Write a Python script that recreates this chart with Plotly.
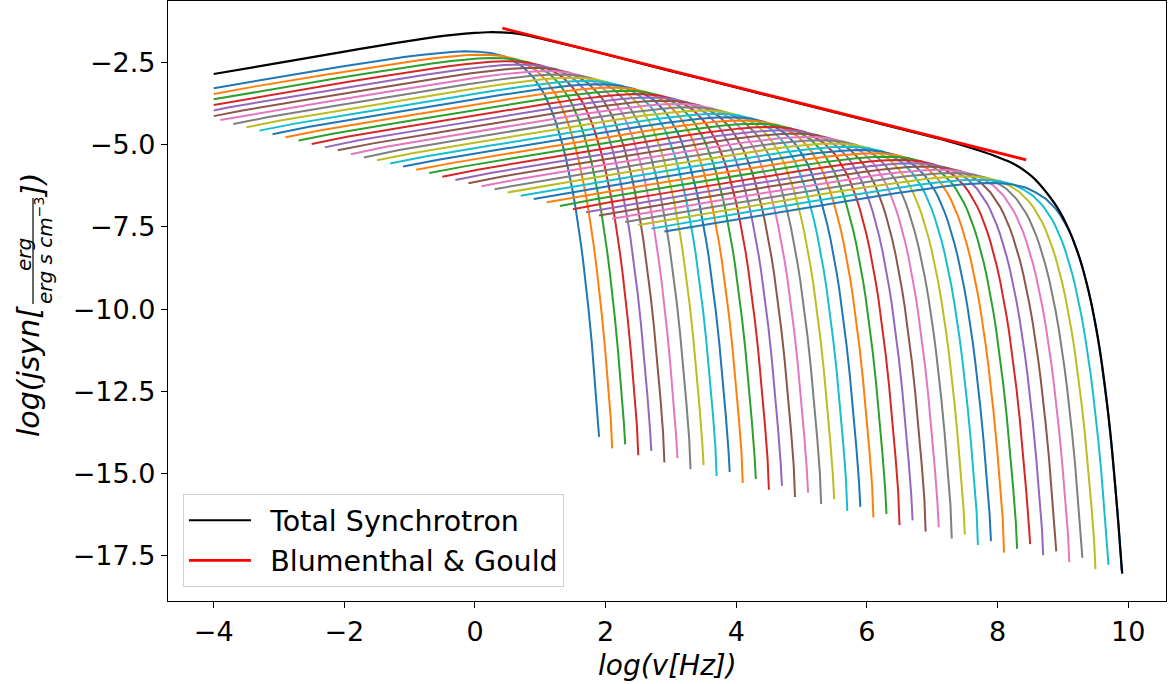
import plotly.graph_objects as go

# ---- data ----
# 41 single-electron synchrotron curves (tab10 colour cycle)
x_start = [-4.0, -4.0, -4.0, -4.0, -4.0, -4.0,
           -3.9, -3.7, -3.5, -3.3, -3.1, -2.9, -2.7, -2.5, -2.3, -2.1, -1.9, -1.7,
           -1.5, -1.3, -1.1, -0.9, -0.7, -0.5, -0.3, -0.1, 0.1, 0.3, 0.5, 0.7,
           0.9, 1.1, 1.3, 1.5, 1.7, 1.9, 2.1, 2.3, 2.5, 2.7, 2.9]
y_start = [-3.28, -3.46, -3.62, -3.79, -3.96, -4.13, -4.25, -4.37, -4.47, -4.57,
           -4.68, -4.77, -4.87, -4.98, -5.08, -5.17, -5.29, -5.39, -5.47, -5.57,
           -5.66, -5.76, -5.86, -5.97, -6.07, -6.17, -6.26, -6.35, -6.45, -6.55,
           -6.65, -6.75, -6.86, -6.96, -7.05, -7.15, -7.25, -7.35, -7.44, -7.55, -7.64]
peak_y = [-2.16, -2.26, -2.36, -2.46, -2.56, -2.66, -2.76, -2.86, -2.96, -3.06,
          -3.16, -3.26, -3.36, -3.46, -3.56, -3.66, -3.76, -3.86, -3.96, -4.06,
          -4.16, -4.26, -4.36, -4.46, -4.56, -4.66, -4.76, -4.86, -4.96, -5.06,
          -5.16, -5.26, -5.36, -5.46, -5.56, -5.66, -5.76, -5.86, -5.96, -6.06, -6.16]
x_end = [1.9, 2.1, 2.3, 2.5, 2.7, 2.9, 3.1, 3.3, 3.5, 3.7, 3.9, 4.1, 4.3, 4.5,
         4.7, 4.9, 5.1, 5.3, 5.5, 5.7, 5.9, 6.1, 6.3, 6.5, 6.7, 6.9, 7.1, 7.3,
         7.5, 7.7, 7.9, 8.1, 8.3, 8.5, 8.7, 8.9, 9.1, 9.3, 9.5, 9.7, 9.9]
y_end = [-13.88, -14.23, -14.11, -14.44, -14.31, -14.66, -14.53, -14.86, -14.74, -15.07,
         -14.95, -15.28, -15.16, -15.49, -15.37, -15.71, -15.58, -15.92, -15.78, -16.13,
         -16.01, -16.33, -16.22, -16.56, -16.42, -16.76, -16.63, -16.97, -16.85, -17.17,
         -17.05, -17.40, -17.28, -17.14, -17.48, -17.36, -17.69, -17.56, -17.90, -17.77, -17.95]

# common curve profile: offset from its right end (x) and from its peak (y)
profile_dx = [-7.0, -6.46, -5.46, -4.46, -3.96, -3.46, -2.96, -2.66, -2.46, -2.26,
              -2.06, -1.86, -1.66, -1.46, -1.31, -1.16, -1.01, -0.94, -0.86, -0.81,
              -0.76, -0.71, -0.66, -0.61, -0.56, -0.51, -0.46, -0.41, -0.36, -0.32,
              -0.28, -0.24, -0.21, -0.16, -0.11, -0.06, -0.02, 0.0]
profile_dy = [-1.474, -1.298, -0.965, -0.635, -0.472, -0.315, -0.168, -0.093, -0.050, -0.019,
              -0.001, -0.009, -0.052, -0.147, -0.293, -0.484, -0.783, -0.973, -1.228, -1.420,
              -1.633, -1.884, -2.166, -2.478, -2.831, -3.230, -3.680, -4.187, -4.759, -5.266,
              -5.829, -6.445, -6.946, -7.865, -8.899, -10.062, -11.095, -11.65]

# total synchrotron (black)
total_x = [-4.0, -3.0, -2.0, -1.5, -1.0, -0.6, -0.3, 0.0, 0.2, 0.4, 0.55, 0.7, 0.85,
           1.0, 1.5, 2.0, 3.0, 4.0, 5.0, 6.0, 7.0, 7.3, 7.57, 7.8, 8.0, 8.15, 8.3,
           8.45, 8.58, 8.7, 8.8, 8.9, 9.0, 9.1, 9.2, 9.3, 9.4, 9.5, 9.6, 9.7, 9.75,
           9.8, 9.85, 9.88, 9.91]
total_y = [-2.85, -2.51, -2.17, -2.00, -1.84, -1.72, -1.65, -1.60, -1.58, -1.585,
           -1.60, -1.64, -1.70, -1.77, -2.00, -2.25, -2.76, -3.26, -3.76, -4.26,
           -4.76, -4.92, -5.08, -5.23, -5.37, -5.49, -5.64, -5.84, -6.06, -6.33,
           -6.58, -6.86, -7.20, -7.62, -8.12, -8.73, -9.50, -10.45, -11.68, -13.25,
           -14.20, -15.30, -16.50, -17.30, -18.04]

# Blumenthal & Gould power law (red)
bg_x = [0.42, 8.44]
bg_y = [-1.457, -5.46]

x_ticks = [-4, -2, 0, 2, 4, 6, 8, 10]
x_tick_text = ["\u22124", "\u22122", "0", "2", "4", "6", "8", "10"]
y_ticks = [-2.5, -5.0, -7.5, -10.0, -12.5, -15.0, -17.5]
y_tick_text = ["\u22122.5", "\u22125.0", "\u22127.5", "\u221210.0", "\u221212.5", "\u221215.0", "\u221217.5"]

colors = ["#1f77b4", "#ff7f0e", "#2ca02c", "#d62728", "#9467bd",
          "#8c564b", "#e377c2", "#7f7f7f", "#bcbd22", "#17becf"]

FONT = "DejaVu Sans"

fig = go.Figure()
for k in range(len(x_end)):
    xs = [x_start[k]]
    ys = [y_start[k]]
    for dx, dy in zip(profile_dx[1:-1], profile_dy[1:-1]):
        xv = x_end[k] + dx
        if xv > x_start[k] + 0.05:
            xs.append(xv)
            ys.append(peak_y[k] + dy)
    xs.append(x_end[k])
    ys.append(y_end[k])
    fig.add_trace(go.Scatter(x=xs, y=ys, mode="lines",
                             line=dict(color=colors[k % 10], width=2),
                             showlegend=False, hoverinfo="skip"))

fig.add_trace(go.Scatter(x=total_x, y=total_y, mode="lines", name="\u2002Total Synchrotron",
                         line=dict(color="black", width=2.2, shape="spline", smoothing=0.6)))
fig.add_trace(go.Scatter(x=bg_x, y=bg_y, mode="lines", name="\u2002Blumenthal & Gould",
                         line=dict(color="#ff0000", width=2.8)))

axis_common = dict(showgrid=False, zeroline=False, showline=True, mirror=True,
                   linecolor="black", linewidth=1.2, ticks="outside", ticklen=6,
                   tickwidth=1.2, tickcolor="black",
                   tickfont=dict(family=FONT, size=27, color="black"))

fig.update_layout(
    width=1168, height=684,
    margin=dict(l=168, r=2, t=1, b=83),
    paper_bgcolor="white", plot_bgcolor="white",
    font=dict(family=FONT, size=27, color="black"),
    xaxis=dict(range=[-4.70, 10.58], tickmode="array", tickvals=x_ticks,
               ticktext=x_tick_text, **axis_common),
    yaxis=dict(range=[-18.87, -0.63], tickmode="array", tickvals=y_ticks,
               ticktext=y_tick_text, **axis_common),
    legend=dict(x=0.015, y=0.023, xanchor="left", yanchor="bottom",
                bgcolor="rgba(255,255,255,0.8)", bordercolor="#d0d0d0", borderwidth=1,
                itemwidth=62,
                font=dict(family=FONT, size=28.5, color="black")),
    hovermode=False,
)

# axis labels
fig.add_annotation(text="<i>log(v[Hz])</i>", xref="paper", yref="paper",
                   x=0.5, y=-0.107, xanchor="center", yanchor="middle",
                   showarrow=False, font=dict(family=FONT, size=28, color="black"))
fig.add_annotation(text="<i>log(jsyn[</i>", xref="paper", yref="paper",
                   x=0, xshift=-140, y=(601 - 372) / 600, xanchor="center", yanchor="middle",
                   textangle=-90, showarrow=False, font=dict(family=FONT, size=30, color="black"))
fig.add_annotation(text="<i>erg</i>", xref="paper", yref="paper",
                   x=0, xshift=-144, y=(601 - 255) / 600, xanchor="center", yanchor="middle",
                   textangle=-90, showarrow=False, font=dict(family=FONT, size=20, color="black"))
fig.add_annotation(text="<i>erg s cm</i><sup>\u22123</sup>", xref="paper", yref="paper",
                   x=0, xshift=-124, y=(601 - 251) / 600, xanchor="center", yanchor="middle",
                   textangle=-90, showarrow=False, font=dict(family=FONT, size=20, color="black"))
fig.add_annotation(text="<i>])</i>", xref="paper", yref="paper",
                   x=0, xshift=-136, y=(601 - 186) / 600, xanchor="center", yanchor="middle",
                   textangle=-90, showarrow=False, font=dict(family=FONT, size=30, color="black"))
fig.add_shape(type="line", xref="paper", yref="paper",
              x0=(33 - 168) / 998, x1=(33 - 168) / 998,
              y0=(601 - 198) / 600, y1=(601 - 304) / 600,
              line=dict(color="black", width=1.2))

fig.write_html("out.html")
